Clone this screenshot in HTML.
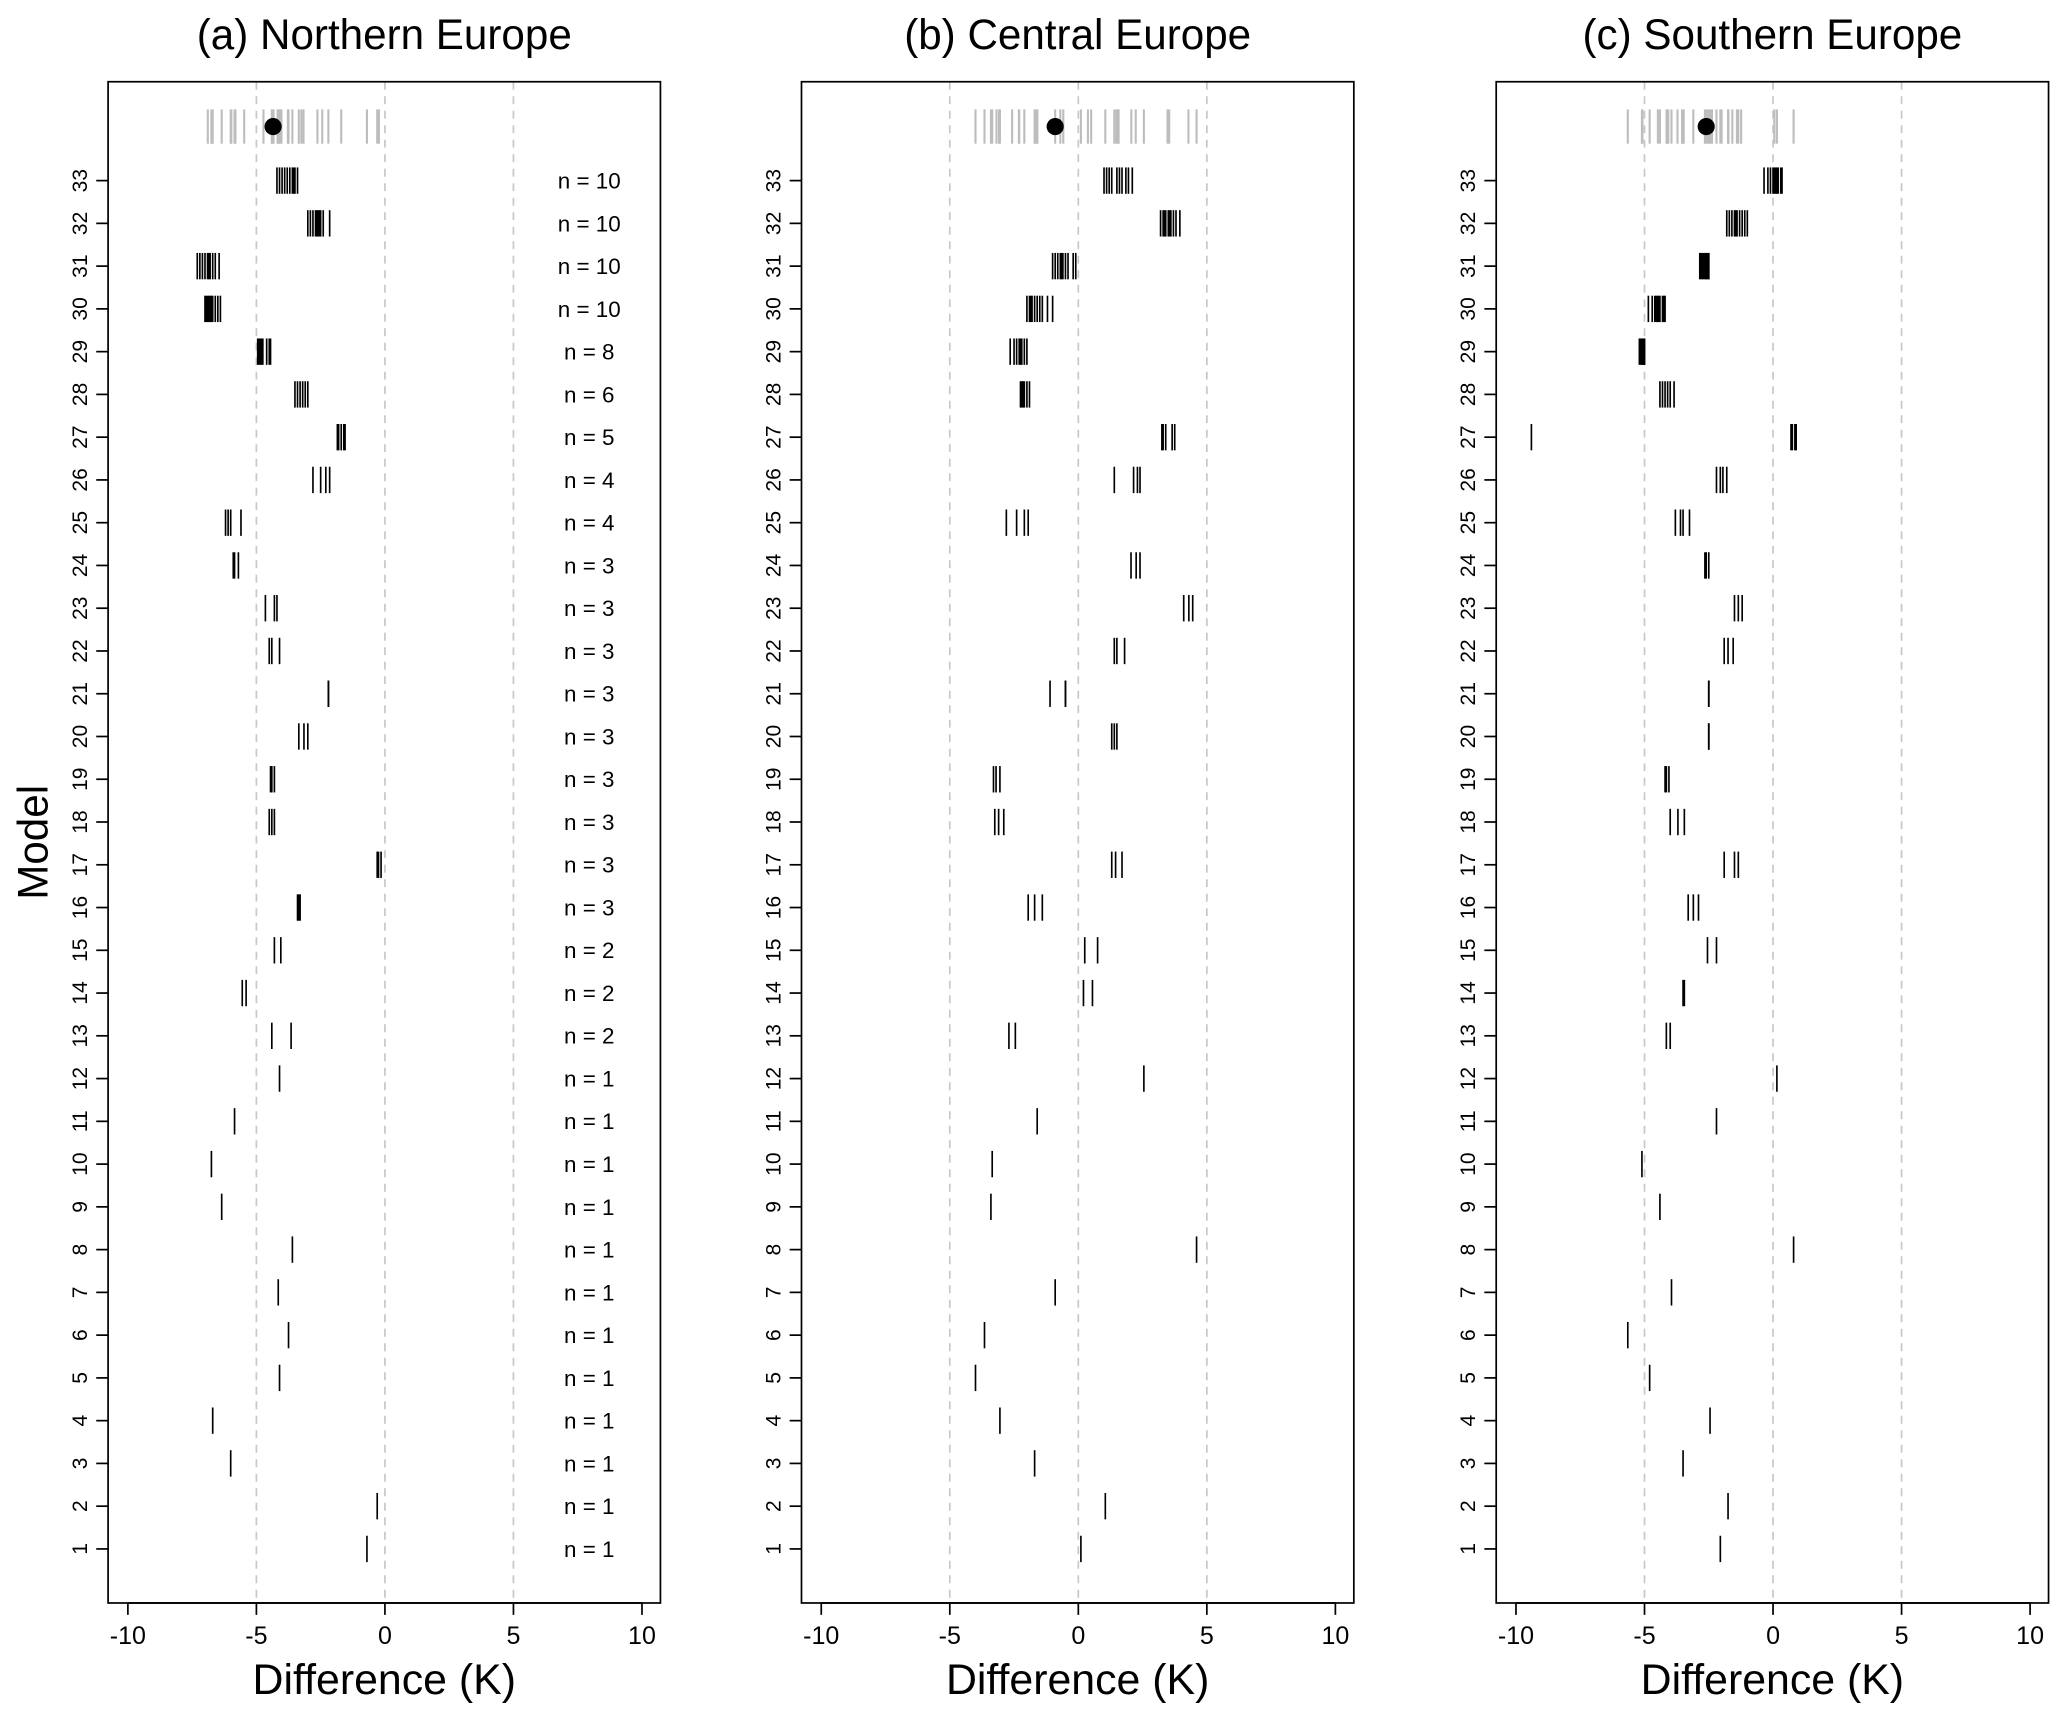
<!DOCTYPE html>
<html><head><meta charset="utf-8"><style>
html,body{margin:0;padding:0;background:#fff}
svg{display:block}
text{font-family:"Liberation Sans",Arial,sans-serif;fill:#000}
</style></head><body>
<svg id="chart" width="2067" height="1719" viewBox="0 0 1568 1304" xmlns="http://www.w3.org/2000/svg"></svg>
<script>
const panelTitles = ["(a) Northern Europe","(b) Central Europe","(c) Southern Europe"];
const xTicks = [-10,-5,0,5,10];
const nCounts = [1,1,1,1,1,1,1,1,1,1,1,1,2,2,2,3,3,3,3,3,3,3,3,3,4,4,5,6,8,10,10,10,10];
const ensembleMeans = [-4.35,-0.9,-2.6];
const northValues = [
[-0.7],[-0.3],[-6.0],[-6.7],[-4.1],[-3.75],[-4.15],[-3.6],[-6.35],[-6.75],[-5.85],[-4.1],
[-4.4,-3.65],[-5.55,-5.4],[-4.3,-4.05],[-3.4,-3.35,-3.3],[-0.3,-0.25,-0.15],[-4.5,-4.4,-4.3],
[-4.45,-4.4,-4.3],[-3.35,-3.15,-3.0],[-2.2,-2.2,-2.2],[-4.5,-4.4,-4.1],[-4.65,-4.3,-4.2],
[-5.9,-5.85,-5.7],[-6.2,-6.1,-6.0,-5.6],[-2.8,-2.5,-2.3,-2.15],[-1.85,-1.8,-1.7,-1.6,-1.55],
[-3.5,-3.4,-3.3,-3.2,-3.1,-3.0],[-4.95,-4.9,-4.85,-4.8,-4.75,-4.6,-4.5,-4.45],
[-7.0,-6.95,-6.9,-6.85,-6.8,-6.75,-6.7,-6.6,-6.5,-6.4],
[-7.3,-7.2,-7.1,-7.0,-6.9,-6.85,-6.8,-6.7,-6.6,-6.45],
[-3.0,-2.9,-2.8,-2.7,-2.65,-2.6,-2.55,-2.5,-2.4,-2.15],
[-4.2,-4.1,-4.0,-3.9,-3.8,-3.7,-3.6,-3.55,-3.5,-3.4]];
const centralValues = [
[0.1],[1.05],[-1.7],[-3.05],[-4.0],[-3.65],[-0.9],[4.6],[-3.4],[-3.35],[-1.6],[2.55],
[-2.7,-2.45],[0.2,0.55],[0.25,0.75],[-1.95,-1.7,-1.4],[1.3,1.45,1.7],[-3.25,-3.1,-2.9],
[-3.3,-3.2,-3.05],[1.3,1.4,1.5],[-1.1,-0.5,-0.5],[1.4,1.5,1.8],[4.1,4.3,4.45],
[2.05,2.25,2.4],[-2.8,-2.4,-2.1,-1.95],[1.4,2.15,2.3,2.4],[3.25,3.3,3.4,3.65,3.75],
[-2.25,-2.2,-2.15,-2.1,-2.0,-1.9],[-2.65,-2.5,-2.4,-2.3,-2.25,-2.2,-2.1,-2.0],
[-2.0,-1.9,-1.85,-1.8,-1.7,-1.6,-1.5,-1.4,-1.2,-1.0],
[-1.0,-0.9,-0.8,-0.7,-0.65,-0.6,-0.5,-0.4,-0.2,-0.1],
[3.2,3.3,3.35,3.4,3.5,3.55,3.6,3.7,3.8,3.95],
[1.0,1.1,1.2,1.3,1.5,1.6,1.7,1.85,1.95,2.1]];
const southValues = [
[-2.05],[-1.75],[-3.5],[-2.45],[-4.8],[-5.65],[-3.95],[0.8],[-4.4],[-5.1],[-2.2],[0.15],
[-4.15,-4.0],[-3.5,-3.45],[-2.55,-2.2],[-3.3,-3.1,-2.9],[-1.9,-1.5,-1.35],[-4.0,-3.7,-3.45],
[-4.2,-4.15,-4.05],[-2.5,-2.5,-2.5],[-2.5,-2.5,-2.5],[-1.9,-1.75,-1.55],[-1.5,-1.35,-1.2],
[-2.65,-2.6,-2.5],[-3.8,-3.6,-3.5,-3.25],[-2.2,-2.05,-1.95,-1.8],[-9.4,0.7,0.75,0.85,0.9],
[-4.4,-4.3,-4.2,-4.1,-4.0,-3.85],[-5.2,-5.15,-5.1,-5.1,-5.05,-5.05,-5.0,-5.0],
[-4.85,-4.7,-4.6,-4.55,-4.5,-4.45,-4.4,-4.3,-4.25,-4.2],
[-2.85,-2.8,-2.75,-2.7,-2.65,-2.6,-2.6,-2.55,-2.5,-2.5],
[-1.8,-1.7,-1.6,-1.5,-1.45,-1.4,-1.3,-1.2,-1.1,-1.0],
[-0.35,-0.2,-0.1,0.0,0.05,0.1,0.15,0.2,0.3,0.35]];
const panelValues = [northValues, centralValues, southValues];

const NS="http://www.w3.org/2000/svg";
const svgRoot=document.getElementById('chart');
function mk(tag,attrs,parent){const e=document.createElementNS(NS,tag);for(const k in attrs)e.setAttribute(k,attrs[k]);(parent||svgRoot).appendChild(e);return e;}
const panelLeft=[82,608,1135], panelW=419, plotTop=62, plotBottom=1216;
function yRow(m){return 1175-(m-1)*(1175-137)/32;}
const ensY=96;

panelValues.forEach((vals,p)=>{
  const L=panelLeft[p];
  const x=v=>L+15+(v+10)*19.5;
  const g=mk('g',{});
  
  
  [-5,0,5].forEach(v=>{
    const l=mk('line',{x1:x(v),x2:x(v),y1:plotTop,y2:plotBottom,stroke:'#c8c8c8','stroke-width':1.3,'stroke-dasharray':'6,5'},g);
    
    
  });
  const box=mk('rect',{x:L,y:plotTop,width:panelW,height:plotBottom-plotTop,fill:'none',stroke:'#000','stroke-width':1.3},g);
  
  
  const t=mk('text',{x:L+panelW/2,y:37,'font-size':32,'text-anchor':'middle'},g);t.textContent=panelTitles[p];
  
  
  mk('line',{x1:x(-10),x2:x(10),y1:plotBottom,y2:plotBottom,stroke:'#000','stroke-width':1.3},g);
  xTicks.forEach(v=>{
    mk('line',{x1:x(v),x2:x(v),y1:plotBottom,y2:plotBottom+9,stroke:'#000','stroke-width':1.3},g);
    const tl=mk('text',{x:x(v),y:plotBottom+31,'font-size':19,'text-anchor':'middle'},g);tl.textContent=v;
    
    
  });
  const xt=mk('text',{x:L+panelW/2,y:1285,'font-size':32.5,'text-anchor':'middle'},g);xt.textContent='Difference (K)';
  
  
  for(let m=1;m<=33;m++){
    mk('line',{x1:L,x2:L-9,y1:yRow(m),y2:yRow(m),stroke:'#000','stroke-width':1.3},g);
    const yl=mk('text',{x:0,y:0,'font-size':16,'text-anchor':'middle',transform:`translate(${L-16},${yRow(m)}) rotate(-90)`},g);yl.textContent=m;
    
    
  }
  vals.forEach(arr=>{
    const mean=arr.reduce((a,b)=>a+b,0)/arr.length;
    const gl=mk('line',{x1:x(mean),x2:x(mean),y1:ensY-13,y2:ensY+13,stroke:'#bdbdbd','stroke-width':1.6},g);
    
    
  });
  const dot=mk('circle',{cx:x(ensembleMeans[p]),cy:ensY,r:6.5,fill:'#000'},g);
  
  
  vals.forEach((arr,i)=>{
    const y=yRow(i+1);
    arr.forEach(v=>{
      const tk=mk('line',{x1:x(v),x2:x(v),y1:y-10,y2:y+10,stroke:'#000','stroke-width':1.25},g);
      
      
    });
    if(p===0){
      const nt=mk('text',{x:447,y:y+6,'font-size':17,'text-anchor':'middle'},g);nt.textContent='n = '+nCounts[i];
      
      
    }
  });
});
const yt=mk('text',{x:0,y:0,'font-size':32,'text-anchor':'middle',transform:'translate(36,639) rotate(-90)'});yt.textContent='Model';


</script>
</body></html>
